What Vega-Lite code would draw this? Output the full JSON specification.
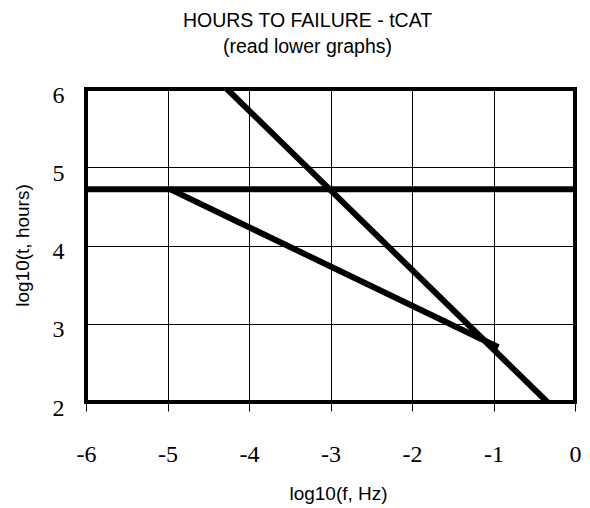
{
  "$schema": "https://vega.github.io/schema/vega-lite/v6.json",
  "width": 489,
  "height": 313,
  "autosize": {"type": "none"},
  "padding": {"left": 86, "top": 89, "right": 15, "bottom": 106},
  "background": "white",
  "title": {
    "text": "HOURS TO FAILURE - tCAT",
    "subtitle": "(read lower graphs)",
    "anchor": "middle",
    "dx": -23,
    "font": "Liberation Sans",
    "fontSize": 19.5,
    "fontWeight": "normal",
    "color": "black",
    "subtitleFont": "Liberation Sans",
    "subtitleFontSize": 19.5,
    "subtitleColor": "black",
    "subtitlePadding": 6,
    "offset": 26
  },
  "config": {
    "view": {"stroke": "black", "strokeWidth": 4}
  },
  "data": {
    "values": [
      {"series": "A", "x": -6, "y": 4.72},
      {"series": "A", "x": 0, "y": 4.72},
      {"series": "B", "x": -4.27, "y": 6},
      {"series": "B", "x": -0.34, "y": 2},
      {"series": "C", "x": -4.97, "y": 4.72},
      {"series": "C", "x": -0.94, "y": 2.70}
    ]
  },
  "mark": {"type": "line", "color": "black", "strokeWidth": 6, "clip": true},
  "encoding": {
    "detail": {"field": "series"},
    "x": {
      "field": "x",
      "type": "quantitative",
      "scale": {"domain": [-6, 0], "nice": false, "zero": false},
      "axis": {
        "values": [-6, -5, -4, -3, -2, -1, 0],
        "labelExpr": "toString(datum.value)",
        "title": "log10(f, Hz)",
        "titleFont": "Liberation Sans",
        "titleFontSize": 19,
        "titleFontWeight": "normal",
        "titleColor": "black",
        "titleX": 252,
        "titleY": 91,
        "titleBaseline": "middle",
        "labelFont": "Liberation Serif",
        "labelFontSize": 24,
        "labelColor": "black",
        "labelPadding": 31,
        "labelBaseline": "top",
        "labelFlush": false,
        "domain": false,
        "ticks": true,
        "tickSize": 9,
        "tickColor": "black",
        "tickWidth": 1,
        "grid": true,
        "gridColor": "black",
        "gridWidth": 1,
        "gridOpacity": 1
      }
    },
    "y": {
      "field": "y",
      "type": "quantitative",
      "scale": {"domain": [2, 6], "nice": false, "zero": false},
      "axis": {
        "values": [2, 3, 4, 5, 6],
        "labelExpr": "toString(datum.value)",
        "title": "log10(t, hours)",
        "titleFont": "Liberation Sans",
        "titleFontSize": 19,
        "titleFontWeight": "normal",
        "titleColor": "black",
        "titleX": -64,
        "titleY": 156,
        "titleAngle": -90,
        "titleBaseline": "middle",
        "titleAlign": "center",
        "labelFont": "Liberation Serif",
        "labelFontSize": 24,
        "labelColor": "black",
        "labelPadding": 22,
        "labelOffset": 6,
        "labelBaseline": "middle",
        "labelFlush": false,
        "domain": false,
        "ticks": false,
        "grid": true,
        "gridColor": "black",
        "gridWidth": 1,
        "gridOpacity": 1
      }
    }
  }
}
